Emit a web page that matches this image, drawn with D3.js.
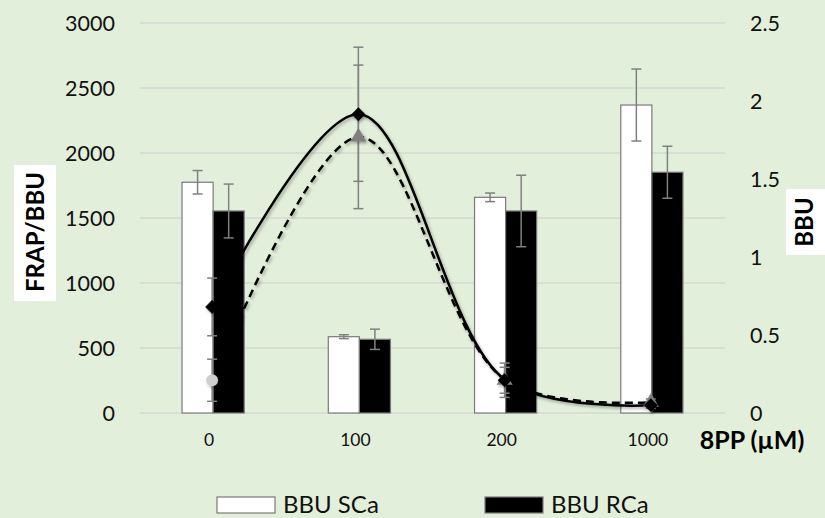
<!DOCTYPE html>
<html>
<head>
<meta charset="utf-8">
<script src="https://cdn.jsdelivr.net/npm/d3@7"></script>
<style>
  html, body { margin: 0; padding: 0; background: #e2efda; }
  svg { display: block; font-family: Lato, "Open Sans", sans-serif; }
</style>
</head>
<body>
<svg id="chart" width="825" height="518"></svg>
<script>
// 8PP concentration groups (µM)
const categories = ["0", "100", "200", "1000"];

// Bars, left axis (FRAP/BBU)
const scaValues = [1775, 587, 1659, 2369];
const scaErrors = [90, 15, 33, 277];
const rcaValues = [1554, 567, 1554, 1852];
const rcaErrors = [207, 78, 275, 200];

// Smoothed lines, right axis (BBU)
const solidValues = [0.68, 1.915, 0.21, 0.05];
const solidErrors = [0.185, 0.43, 0.11, 0.02];
const dashedValues = [0.21, 1.77, 0.21, 0.07];
const dashedErrors = [0.135, 0.46, 0.083, 0.02];

// Axis ticks
const leftTicks = [0, 500, 1000, 1500, 2000, 2500, 3000];
const rightTicks = [0, 0.5, 1, 1.5, 2, 2.5];
const legendLabels = ["BBU SCa", "BBU RCa"];

const svg = d3.select("#chart");
const plot = { left: 140, right: 725, top: 23, bottom: 413 };

const x = d3.scaleBand().domain(categories)
  .range([plot.left, plot.right]).paddingInner(0.575).paddingOuter(0.2875);
const xSeries = d3.scaleBand().domain(["sca", "rca"]).range([0, x.bandwidth()]);
const yL = d3.scaleLinear().domain([0, 3000]).range([plot.bottom, plot.top]);
const yR = d3.scaleLinear().domain([0, 2.5]).range([plot.bottom, plot.top]);
const cx = c => x(c) + x.bandwidth() / 2;

// soft shadow under the lines
const defs = svg.append("defs");
const f = defs.append("filter").attr("id", "shadow")
  .attr("x", "-10%").attr("y", "-10%").attr("width", "120%").attr("height", "130%");
f.append("feDropShadow").attr("dx", 1.5).attr("dy", 2).attr("stdDeviation", 1.5)
  .attr("flood-color", "#000").attr("flood-opacity", 0.3);

svg.append("rect").attr("width", 825).attr("height", 518).attr("fill", "#e2efda");

// gridlines
svg.append("g").selectAll("line").data(leftTicks).join("line")
  .attr("x1", plot.left).attr("x2", plot.right)
  .attr("y1", d => yL(d)).attr("y2", d => yL(d))
  .attr("stroke", "#d6d9d3").attr("stroke-width", 1.5);

// left axis labels
const leftAxis = d3.axisLeft(yL).tickValues(leftTicks).tickSize(0).tickPadding(0)
  .tickFormat(d3.format("d"));
svg.append("g").attr("transform", "translate(115,0)").call(leftAxis)
  .call(g => g.select(".domain").remove())
  .selectAll("text").attr("font-size", 21.5).attr("fill", "#111")
  .attr("font-family", "Lato, sans-serif").attr("dy", "0.35em");

// right axis labels
const rightAxis = d3.axisRight(yR).tickValues(rightTicks).tickSize(0).tickPadding(0)
  .tickFormat(d3.format("~g"));
svg.append("g").attr("transform", "translate(750,0)").call(rightAxis)
  .call(g => g.select(".domain").remove())
  .selectAll("text").attr("font-size", 21.5).attr("fill", "#111")
  .attr("font-family", "Lato, sans-serif").attr("dy", "0.35em");

// category labels
const bottomAxis = d3.axisBottom(x).tickSize(0).tickPadding(0);
svg.append("g").attr("transform", "translate(-4,440)").call(bottomAxis)
  .call(g => g.select(".domain").remove())
  .selectAll("text").attr("font-size", 17.5).attr("fill", "#111")
  .attr("font-family", "Lato, sans-serif").attr("dy", "0.35em");

// bars
const barData = categories.map((c, i) => ([
  { c, key: "sca", v: scaValues[i], e: scaErrors[i], fill: "#ffffff" },
  { c, key: "rca", v: rcaValues[i], e: rcaErrors[i], fill: "#000000" }
])).flat();

svg.append("g").selectAll("rect").data(barData).join("rect")
  .attr("x", d => x(d.c) + xSeries(d.key))
  .attr("y", d => yL(d.v))
  .attr("width", xSeries.bandwidth())
  .attr("height", d => yL(0) - yL(d.v))
  .attr("fill", d => d.fill)
  .attr("stroke", "#7a7a7a").attr("stroke-width", 1.2);

// bar error bars
const barErr = svg.append("g").attr("stroke", "#808080").attr("stroke-width", 1.5);
barData.forEach(d => {
  const bx = x(d.c) + xSeries(d.key) + xSeries.bandwidth() / 2;
  const y1 = yL(d.v + d.e), y2 = yL(d.v - d.e);
  barErr.append("line").attr("x1", bx).attr("x2", bx).attr("y1", y1).attr("y2", y2);
  [y1, y2].forEach(yy => barErr.append("line")
    .attr("x1", bx - 5).attr("x2", bx + 5).attr("y1", yy).attr("y2", yy));
});

// smoothed lines
const lineGen = d3.line().x(d => cx(d.c)).y(d => yR(d.v)).curve(d3.curveCatmullRom.alpha(0.5));
const solidData = categories.map((c, i) => ({ c, v: solidValues[i], e: solidErrors[i] }));
const dashedData = categories.map((c, i) => ({ c, v: dashedValues[i], e: dashedErrors[i] }));

const lines = svg.append("g").attr("filter", "url(#shadow)");
lines.append("path").datum(dashedData).attr("d", lineGen)
  .attr("fill", "none").attr("stroke", "#000").attr("stroke-width", 2.5)
  .attr("stroke-dasharray", "8,5");
lines.append("path").datum(solidData).attr("d", lineGen)
  .attr("fill", "none").attr("stroke", "#000").attr("stroke-width", 2.5);

// line error bars
const lineErr = svg.append("g").attr("stroke", "#808080").attr("stroke-width", 1.5);
[solidData, dashedData].forEach(series => series.forEach(d => {
  const px = cx(d.c) - 1;
  const y1 = yR(d.v + d.e), y2 = yR(Math.max(0, d.v - d.e));
  lineErr.append("line").attr("x1", px).attr("x2", px).attr("y1", y1).attr("y2", y2);
  [y1, y2].forEach(yy => lineErr.append("line")
    .attr("x1", px - 5).attr("x2", px + 5).attr("y1", yy).attr("y2", yy));
}));

// markers: grey circle/triangle on the dashed series, black diamonds on the solid one
const markers = svg.append("g").attr("filter", "url(#shadow)");
markers.selectAll("path.dash").data(dashedData).join("path")
  .attr("class", "dash")
  .attr("transform", d => `translate(${cx(d.c) - 1},${yR(d.v)})`)
  .attr("d", (d, i) => d3.symbol().type(i === 0 ? d3.symbolCircle : d3.symbolTriangle).size(110)())
  .attr("fill", (d, i) => i === 0 ? "#cfcfcf" : "#7f7f7f");
markers.selectAll("path.solid").data(solidData).join("path")
  .attr("class", "solid")
  .attr("transform", d => `translate(${cx(d.c) - 1},${yR(d.v)}) rotate(45)`)
  .attr("d", d3.symbol().type(d3.symbolSquare).size(95)())
  .attr("fill", "#000");

// axis titles with white backing
svg.append("rect").attr("x", 14).attr("y", 165).attr("width", 42).attr("height", 136).attr("fill", "#fff");
svg.append("text").attr("transform", "translate(36,232) rotate(-90)")
  .attr("text-anchor", "middle").attr("dy", "0.35em")
  .attr("font-size", 24).attr("font-weight", "bold").attr("fill", "#000").text("FRAP/BBU");

svg.append("rect").attr("x", 786).attr("y", 189).attr("width", 39).attr("height", 66).attr("fill", "#fff");
svg.append("text").attr("transform", "translate(805,222) rotate(-90)")
  .attr("text-anchor", "middle").attr("dy", "0.35em")
  .attr("font-size", 24).attr("font-weight", "bold").attr("fill", "#000").text("BBU");

svg.append("text").attr("x", 752).attr("y", 440).attr("dy", "0.35em")
  .attr("text-anchor", "middle").attr("font-size", 25).attr("font-weight", "bold")
  .attr("fill", "#000").text("8PP (µM)");

// legend
const legend = svg.append("g");
const legendX = [217, 485];
legendLabels.forEach((lab, i) => {
  legend.append("rect").attr("x", legendX[i]).attr("y", 497).attr("width", 58).attr("height", 16)
    .attr("fill", i === 0 ? "#fff" : "#000").attr("stroke", "#7a7a7a").attr("stroke-width", 1.2);
  legend.append("text").attr("x", legendX[i] + 66).attr("y", 505).attr("dy", "0.35em")
    .attr("font-size", 24).attr("fill", "#111").text(lab);
});
</script>
</body>
</html>
